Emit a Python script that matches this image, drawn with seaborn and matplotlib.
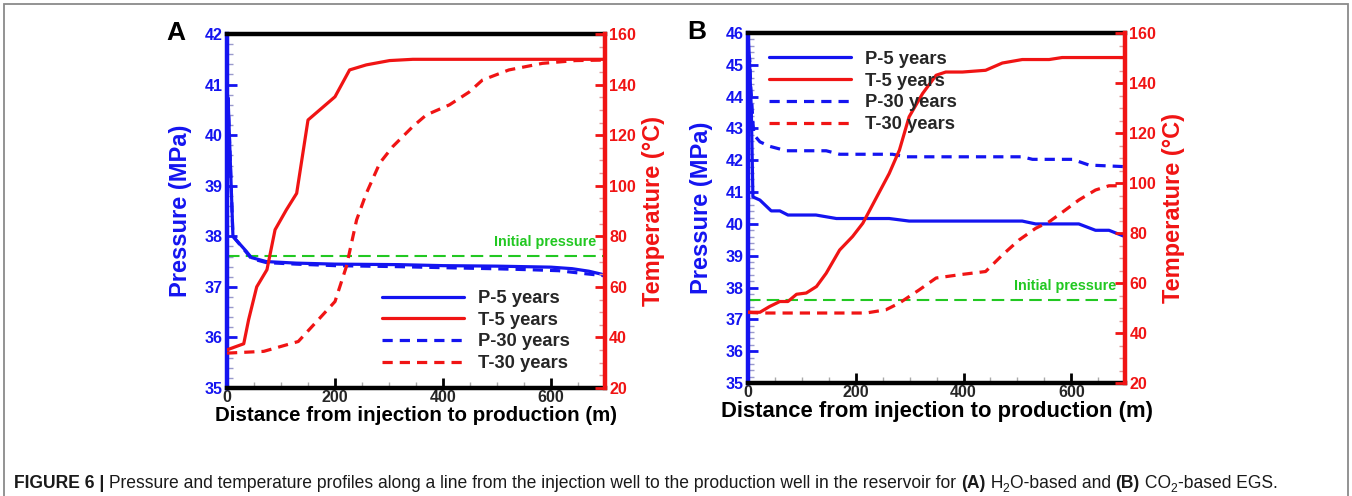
import matplotlib
matplotlib.use("Agg")
import matplotlib.pyplot as plt
from matplotlib.ticker import MultipleLocator
from matplotlib.patches import Rectangle
import seaborn as sns

sns.set_style("ticks")
plt.rcParams["font.family"] = ["Liberation Sans", "DejaVu Sans"]
plt.rcParams["font.weight"] = "bold"
plt.rcParams["axes.labelweight"] = "bold"
plt.rcParams["xtick.direction"] = "in"
plt.rcParams["ytick.direction"] = "in"

BLUE = "#1414f0"
RED = "#f01414"
GREEN = "#22c822"

# ---- Panel A: H2O-based EGS -------------------------------------------
a_dist_p5 = [0, 2, 11, 36, 45, 73, 128, 200, 318, 400, 500, 600, 639, 670, 694, 700]
a_p5 = [40.0, 40.74, 38.0, 37.7, 37.58, 37.5, 37.47, 37.45, 37.44, 37.42, 37.41, 37.39,
        37.36, 37.31, 37.25, 37.2]
a_dist_p30 = [0, 2, 11, 36, 45, 73, 128, 200, 318, 400, 491, 560, 614, 664, 700]
a_p30 = [40.0, 40.7, 38.0, 37.68, 37.56, 37.48, 37.45, 37.42, 37.4, 37.38, 37.36,
         37.34, 37.32, 37.26, 37.22]
a_dist_t5 = [0, 31, 40, 55, 74, 89, 110, 129, 150, 200, 227, 258, 301, 344, 500, 700]
a_t5 = [35.1, 37.5, 47.0, 60.0, 66.8, 82.6, 90.5, 97.0, 126.0, 135.2, 145.8, 147.8,
        149.5, 150.0, 150.0, 150.0]
a_dist_t30 = [0, 68, 132, 200, 221, 240, 258, 283, 307, 344, 369, 412, 448, 473, 522,
              584, 645, 700]
a_t30 = [33.8, 34.5, 38.4, 54.2, 68.0, 86.5, 97.0, 109.0, 115.5, 123.4, 128.0, 132.0,
         137.0, 141.8, 145.8, 148.4, 149.5, 149.7]
a_p_init = 37.62

# ---- Panel B: CO2-based EGS -------------------------------------------
b_dist_p5 = [0, 3, 6, 9, 22, 43, 59, 74, 126, 164, 262, 299, 509, 534, 614, 645, 670, 700]
b_p5 = [45.9, 45.0, 43.6, 40.85, 40.75, 40.41, 40.41, 40.28, 40.28, 40.17, 40.17, 40.09,
        40.09, 40.0, 40.0, 39.8, 39.8, 39.6]
b_dist_p30 = [0, 3, 5, 7, 9, 11, 22, 40, 71, 145, 170, 268, 293, 509, 528, 602, 633, 700]
b_p30 = [45.4, 45.2, 44.3, 43.8, 43.2, 42.8, 42.58, 42.44, 42.3, 42.3, 42.19, 42.19,
         42.11, 42.11, 42.03, 42.03, 41.85, 41.8]
b_dist_t5 = [0, 22, 40, 59, 74, 90, 108, 127, 145, 170, 194, 213, 244, 262, 281, 299,
             324, 349, 367, 398, 441, 472, 509, 559, 583, 700]
b_t5 = [48.3, 48.3, 50.6, 52.6, 52.6, 55.5, 56.0, 58.6, 63.9, 73.2, 78.6, 83.9, 96.5,
        103.8, 113.2, 126.5, 135.8, 143.1, 144.4, 144.4, 145.1, 148.0, 149.4, 149.4,
        150.2, 150.2]
b_dist_t30 = [0, 22, 219, 256, 281, 318, 349, 392, 441, 472, 503, 534, 559, 589, 614,
              645, 670, 700]
b_t30 = [48.3, 48.0, 48.0, 49.3, 52.0, 57.3, 62.0, 63.3, 64.6, 71.2, 77.2, 81.9, 84.5,
         89.2, 93.2, 97.2, 98.9, 98.9]
b_p_init = 37.62

series_labels = ["P-5 years", "T-5 years", "P-30 years", "T-30 years"]
x_label = "Distance from injection to production (m)"
p_label = "Pressure (MPa)"
t_label = "Temperature (\u00b0C)"
init_label = "Initial pressure"

LW = 2.3
DASH = (0, (3.2, 2.2))


def draw_panel(rect, letter, p_lim, p_series, t_series, p_init, legend_anchor,
               xlabel_size):
    ax = fig.add_axes(rect)
    ax2 = ax.twinx()

    handles = {}
    for (dist, vals), style, key in zip(p_series, ["-", DASH], [0, 2]):
        sns.lineplot(x=dist, y=vals, ax=ax, color=BLUE, lw=LW, linestyle=style,
                     estimator=None, sort=False)
        handles[key] = ax.lines[-1]
    for (dist, vals), style, key in zip(t_series, ["-", DASH], [1, 3]):
        sns.lineplot(x=dist, y=vals, ax=ax2, color=RED, lw=LW, linestyle=style,
                     estimator=None, sort=False)
        handles[key] = ax2.lines[-1]

    ax.axhline(p_init, color=GREEN, lw=1.5, linestyle=(0, (6, 3)), zorder=1)
    ax.annotate(init_label, xy=(683, p_init), xytext=(0, 4.5),
                textcoords="offset points", ha="right", va="bottom",
                color=GREEN, fontsize=10.4, fontweight="bold")

    ax.set_xlim(0, 700)
    ax.set_ylim(*p_lim)
    ax2.set_ylim(20, 160)
    ax.xaxis.set_major_locator(MultipleLocator(200))
    ax.xaxis.set_minor_locator(MultipleLocator(50))
    ax.yaxis.set_major_locator(MultipleLocator(1))
    ax.yaxis.set_minor_locator(MultipleLocator(0.2))
    ax2.yaxis.set_major_locator(MultipleLocator(20))
    ax2.yaxis.set_minor_locator(MultipleLocator(5))

    ax.tick_params(axis="y", which="both", left=True, right=False, direction="in")
    ax.tick_params(axis="x", which="both", bottom=True, top=False, direction="in")
    ax.tick_params(axis="y", which="major", length=7, width=2,
                   color=BLUE, labelcolor=BLUE, labelsize=11.6, pad=3)
    ax.tick_params(axis="y", which="minor", length=4, width=1, color="#9a9acc")
    ax.tick_params(axis="x", which="major", length=7, width=2,
                   color="black", labelsize=11.6, pad=1.5)
    ax.tick_params(axis="x", which="minor", length=4, width=1, color="#aaaaaa")
    ax2.tick_params(axis="y", which="both", left=False, right=True, direction="in")
    ax2.tick_params(axis="y", which="major", length=7, width=2,
                    color=RED, labelcolor=RED, labelsize=11.6, pad=3)
    ax2.tick_params(axis="y", which="minor", length=4, width=1, color="#e09a9a")

    for side in ["left", "top", "bottom", "right"]:
        ax.spines[side].set_linewidth(3.2)
        ax2.spines[side].set_linewidth(3.2)
    ax.spines["left"].set_color(BLUE)
    ax.spines["top"].set_color("black")
    ax.spines["bottom"].set_color("black")
    ax.spines["right"].set_visible(False)
    for side in ["left", "top", "bottom"]:
        ax2.spines[side].set_visible(False)
    ax2.spines["right"].set_color(RED)

    ax.set_xlabel(x_label, fontsize=xlabel_size, color="black", labelpad=1)
    ax.set_ylabel(p_label, fontsize=17, color=BLUE, labelpad=9)
    ax2.set_ylabel(t_label, fontsize=17, color=RED, labelpad=4)

    ax2.legend([handles[k] for k in range(4)], series_labels, loc="upper left",
               bbox_to_anchor=legend_anchor, frameon=False, fontsize=13.2,
               handlelength=4.5, handletextpad=0.75, labelspacing=0.26,
               borderpad=0, borderaxespad=0)

    ax.text(-0.16, 1.004, letter, transform=ax.transAxes, fontsize=19,
            fontweight="bold", ha="left", va="center", color="black")
    return ax, ax2


fig = plt.figure(figsize=(13.52, 4.96), dpi=100)

fig.add_artist(Rectangle((4 / 1352, -0.2), 1344 / 1352, 1.2 - 4 / 496,
                         transform=fig.transFigure, fill=False,
                         edgecolor="#8a8a8a", lw=1.3))

draw_panel([0.1679, 0.2177, 0.2796, 0.7137], "A", (35, 42),
           [(a_dist_p5, a_p5), (a_dist_p30, a_p30)],
           [(a_dist_t5, a_t5), (a_dist_t30, a_t30)], a_p_init,
           (0.41, 0.277), 14.8)
draw_panel([0.5533, 0.2278, 0.2789, 0.7056], "B", (35, 46),
           [(b_dist_p5, b_p5), (b_dist_p30, b_p30)],
           [(b_dist_t5, b_t5), (b_dist_t30, b_t30)], b_p_init,
           (0.055, 0.949), 15.8)

# Caption set piece by piece so bold and subscript runs line up
caption_parts = [
    ("FIGURE 6 | ", "bold", False),
    ("Pressure and temperature profiles along a line from the injection well to the "
     "production well in the reservoir for ", "normal", False),
    ("(A)", "bold", False),
    (" H", "normal", False),
    ("2", "normal", True),
    ("O-based and ", "normal", False),
    ("(B)", "bold", False),
    (" CO", "normal", False),
    ("2", "normal", True),
    ("-based EGS.", "normal", False),
]


def place_caption(size):
    renderer = fig.canvas.get_renderer()
    x_px = 14.0
    base_px = 496 - 488.0
    placed = []
    for text, weight, sub in caption_parts:
        fs = size * 0.7 if sub else size
        y_px = base_px - (size * 0.3 if sub else 0)
        t = fig.text(x_px / 1352, y_px / 496, text, fontsize=fs, fontweight=weight,
                     color="#1a1a1a", ha="left", va="baseline")
        bb = t.get_window_extent(renderer)
        x_px = bb.x1
        placed.append(t)
    return placed, x_px - 14.0


parts, width = place_caption(12.0)
for t in parts:
    t.remove()
place_caption(12.0 * 1271.0 / width)

fig.savefig("out.png", dpi=100, facecolor="white")
